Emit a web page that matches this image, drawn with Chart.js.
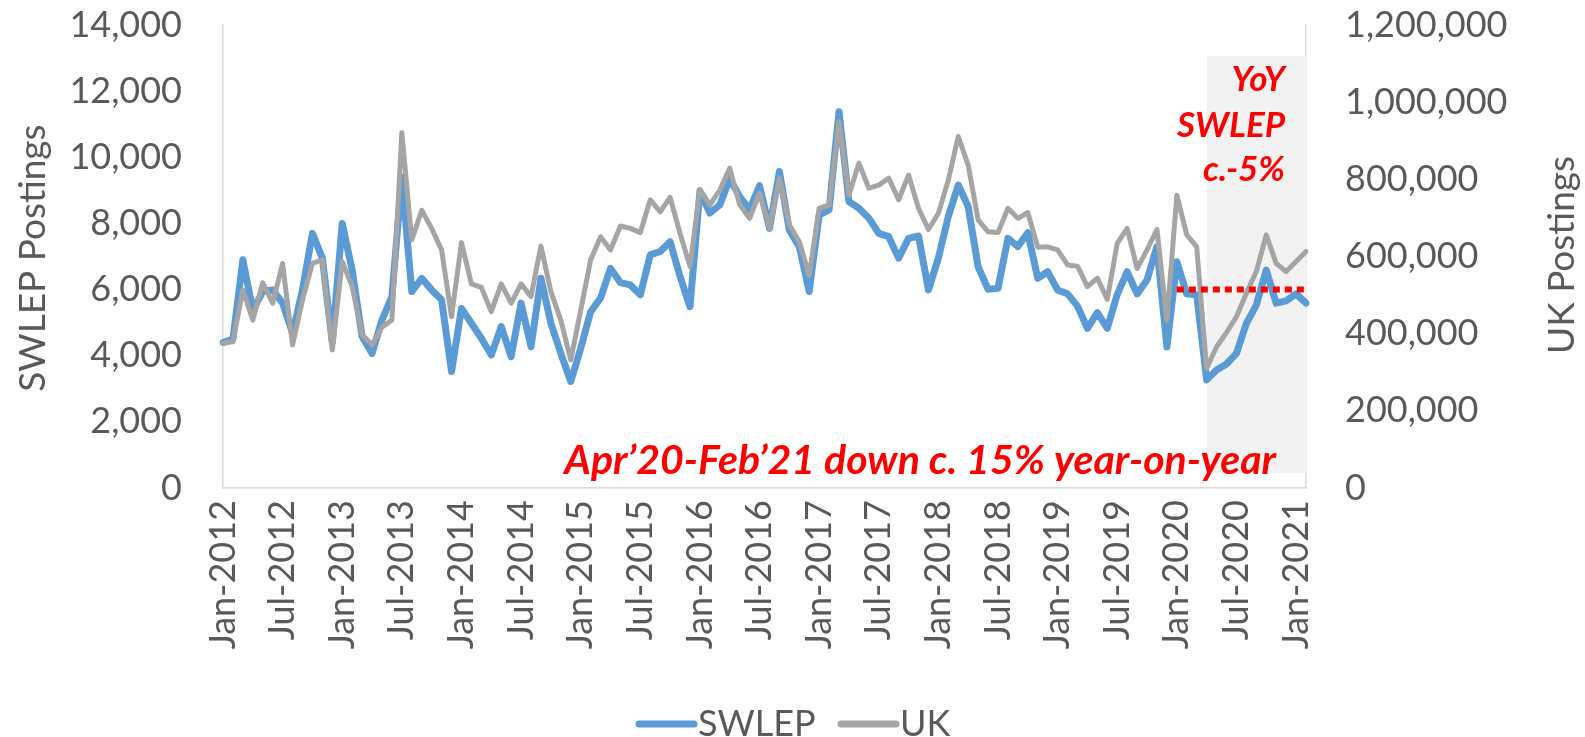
<!DOCTYPE html>
<html><head><meta charset="utf-8">
<script src="https://cdn.jsdelivr.net/npm/chart.js@4.4.1/dist/chart.umd.min.js"></script>
<style>html,body{margin:0;padding:0;background:#fff;}#wrap{width:1585px;height:737px;}</style>
</head><body><div id="wrap"><canvas id="c" width="1585" height="737"></canvas></div>
<script>
// ---- categories (monthly Jan-2012 .. Feb-2021) ----
const monthNames = ['Jan','Feb','Mar','Apr','May','Jun','Jul','Aug','Sep','Oct','Nov','Dec'];
const firstYear = 2012, lastYear = 2021, lastMonthIndex = 1; // Feb-2021
const months = [];
for (let y = firstYear; y <= lastYear; y++) {
  for (let m = 0; m < 12; m++) {
    if (y === lastYear && m > lastMonthIndex) break;
    months.push(monthNames[m] + '-' + y);
  }
}

// ---- series values ----
const swlep = [
  4400,4500,6900,5380,5940,5990,5590,4680,5990,7700,6950,4400,
  8000,6590,4580,4070,5080,5790,9400,5940,6340,5990,5690,3520,
  5430,4980,4530,4020,4880,3970,5590,4270,6340,4980,4070,3220,
  4220,5330,5740,6640,6210,6140,5840,7050,7150,7450,6400,5480,
  8980,8310,8560,9360,8810,8410,9140,7850,9570,7800,7300,5940,
  8260,8410,11380,8660,8460,8160,7700,7600,6950,7550,7620,5990,
  6950,8210,9160,8510,6690,6010,6040,7550,7300,7720,6340,6540,
  5990,5870,5500,4830,5300,4830,5850,6540,5870,6290,7300,4270,
  6840,5870,5840,3270,3570,3750,4070,4980,5530,6590,5590,5660,
  5870,5590
];
const uk = [
  375000,379000,513000,435000,532000,479000,582000,371000,487000,582000,591000,358000,
  587000,522000,397000,371000,417000,435000,921000,643000,720000,673000,617000,444000,
  636000,529000,520000,457000,529000,479000,529000,496000,627000,509000,435000,332000,
  460000,591000,651000,617000,679000,673000,662000,747000,716000,753000,660000,574000,
  774000,734000,772000,829000,734000,699000,764000,673000,803000,682000,638000,552000,
  725000,734000,949000,759000,842000,777000,785000,803000,747000,811000,725000,670000,
  712000,798000,911000,837000,695000,664000,662000,725000,699000,714000,624000,625000,
  617000,578000,575000,522000,544000,489000,634000,673000,569000,617000,670000,435000,
  759000,656000,625000,310000,366000,403000,444000,505000,561000,656000,582000,561000,
  587000,613000
];
// red dotted reference level (SWLEP scale) drawn from Jan-2020 onwards
const refLevel = 6000;
const refStartIndex = 96;
const refLine = months.map((m, i) => i >= refStartIndex ? refLevel : null);

// ---- axis ranges / tick labels ----
const leftMax = 14000, leftStep = 2000;
const rightMax = 1200000, rightStep = 200000;

// ---- annotations ----
const shadeStartIndex = 99, shadeEndIndex = 109;  // Apr-2020 .. Feb-2021
const shadeTop = 13060, shadeBottom = 450;        // in SWLEP units
const noteLines = ['YoY', 'SWLEP', 'c.-5%'];
const bottomNote = 'Apr\u201920-Feb\u201921 down c. 15% year-on-year';

const FONT = 'Lato';
const TXT = '#595959';
const BLUE = '#5B9BD5', GREY = '#A5A5A5', RED = '#FF0000';

const fmt = v => Number(v).toLocaleString('en-US');

const overlay = {
  id: 'overlay',
  beforeDatasetsDraw(chart) {
    const {ctx, scales: {x, y}} = chart;
    const x0 = x.getPixelForValue(shadeStartIndex), x1 = x.getPixelForValue(shadeEndIndex);
    const y0 = y.getPixelForValue(shadeTop), y1 = y.getPixelForValue(shadeBottom);
    ctx.save();
    ctx.fillStyle = '#F2F2F2';
    ctx.fillRect(x0, y0, x1 - x0, y1 - y0);
    ctx.restore();
  },
  afterDraw(chart) {
    const {ctx} = chart;
    ctx.save();
    // red notes
    ctx.fillStyle = RED;
    ctx.font = 'italic bold 35px ' + FONT;
    ctx.textAlign = 'right';
    ctx.textBaseline = 'middle';
    const ys = [80, 126, 170];
    noteLines.forEach((t, i) => ctx.fillText(t, 1285, ys[i]));
    ctx.font = 'italic bold 41px ' + FONT;
    ctx.fillText(bottomNote, 1276, 461);

    // axis titles
    ctx.fillStyle = TXT;
    ctx.font = '37px ' + FONT;
    ctx.textAlign = 'center';
    ctx.save();
    ctx.translate(33, 258); ctx.rotate(-Math.PI / 2);
    ctx.fillText('SWLEP Postings', 0, 0);
    ctx.restore();
    ctx.save();
    ctx.translate(1562, 255); ctx.rotate(-Math.PI / 2);
    ctx.fillText('UK Postings', 0, 0);
    ctx.restore();

    // legend
    const ly = 724;
    const items = [
      {label: chart.data.datasets[0].label, color: BLUE, x: 639},
      {label: chart.data.datasets[1].label, color: GREY, x: 841}
    ];
    ctx.font = '36px ' + FONT;
    ctx.textAlign = 'left';
    items.forEach(it => {
      ctx.strokeStyle = it.color;
      ctx.lineWidth = 7;
      ctx.lineCap = 'round';
      ctx.beginPath(); ctx.moveTo(it.x, ly); ctx.lineTo(it.x + 55, ly); ctx.stroke();
      ctx.fillStyle = TXT;
      ctx.fillText(it.label, it.x + 59, ly);
    });
    ctx.restore();
  }
};

const hiddenTicks = (len) => ({display: true, drawOnChartArea: false, drawTicks: true, tickLength: len, tickColor: 'rgba(0,0,0,0)'});

new Chart(document.getElementById('c'), {
  type: 'line',
  data: {
    labels: months,
    datasets: [
      {label: 'SWLEP', data: swlep, yAxisID: 'y', borderColor: BLUE, backgroundColor: BLUE,
       borderWidth: 7, pointRadius: 0, tension: 0, order: 2, borderJoinStyle: 'round', borderCapStyle: 'round'},
      {label: 'UK', data: uk, yAxisID: 'y2', borderColor: GREY, backgroundColor: GREY,
       borderWidth: 5, pointRadius: 0, tension: 0, order: 1, borderJoinStyle: 'round', borderCapStyle: 'round'},
      {label: 'ref', data: refLine, yAxisID: 'y', borderColor: RED, borderWidth: 6,
       borderDash: [7, 5], pointRadius: 0, tension: 0, order: 0, spanGaps: false}
    ]
  },
  options: {
    responsive: false,
    animation: false,
    devicePixelRatio: 1,
    layout: {padding: {top: 25, left: 0, right: 0, bottom: 0}},
    plugins: {legend: {display: false}, tooltip: {enabled: false}},
    scales: {
      x: {
        type: 'category',
        offset: false,
        grid: {display: false, drawTicks: false},
        border: {color: '#D9D9D9', width: 1.5},
        ticks: {
          autoSkip: false, maxRotation: 90, minRotation: 90, padding: 12,
          color: TXT, font: {family: FONT, size: 36},
          callback: function (val, idx) { return idx % 6 === 0 ? this.getLabelForValue(val) : null; }
        },
        afterFit: s => { s.height = 737 - 488; }
      },
      y: {
        position: 'left', min: 0, max: leftMax,
        grid: hiddenTicks(38),
        border: {color: '#D9D9D9', width: 1.5},
        ticks: {stepSize: leftStep, padding: 3, color: TXT, font: {family: FONT, size: 36}, callback: v => fmt(v)},
        afterFit: s => { s.width = 223; }
      },
      y2: {
        position: 'right', min: 0, max: rightMax,
        grid: hiddenTicks(36),
        border: {color: '#D9D9D9', width: 1.5},
        ticks: {stepSize: rightStep, padding: 3, color: TXT, font: {family: FONT, size: 36}, callback: v => fmt(v)},
        afterFit: s => { s.width = 1585 - 1306; }
      }
    }
  },
  plugins: [overlay]
});
</script></body></html>
